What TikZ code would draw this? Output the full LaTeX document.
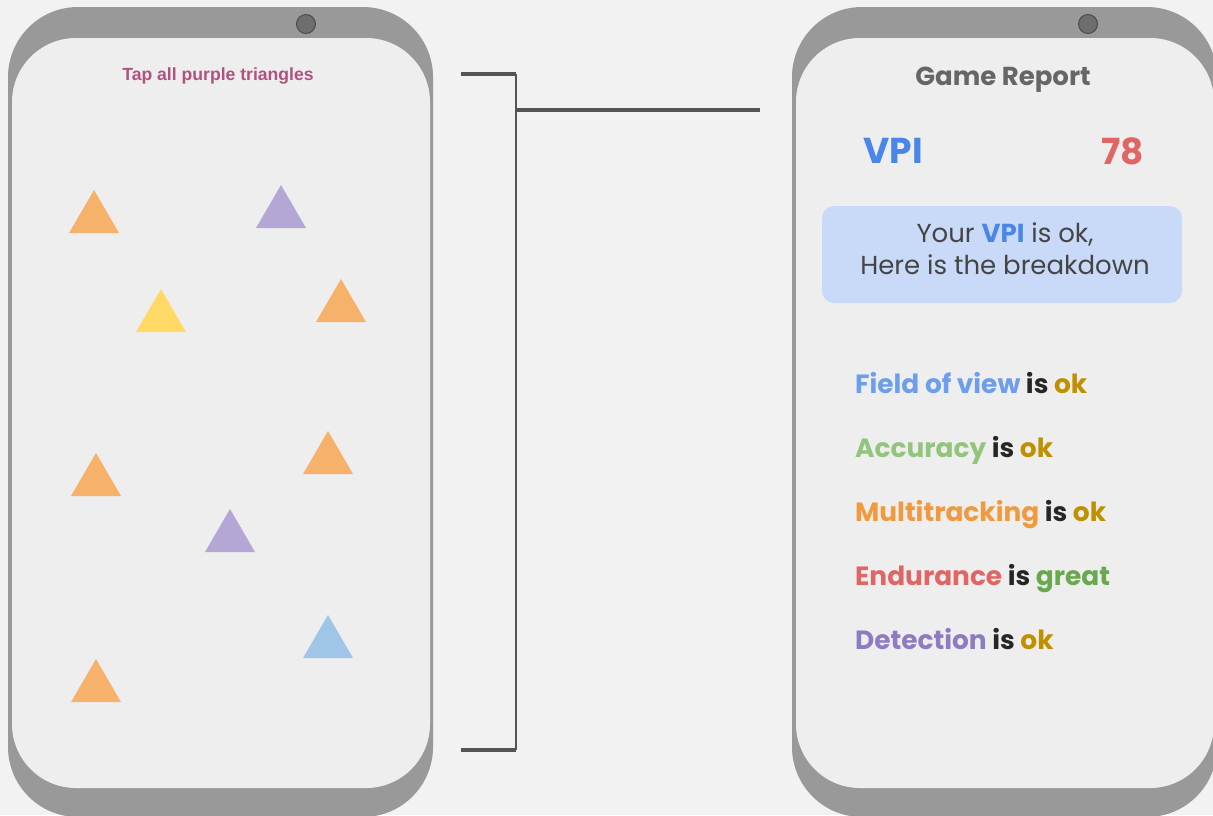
\documentclass[tikz,border=0pt]{standalone}
\usepackage{fontspec}
\setmainfont{Poppins}
\newfontfamily\tapfont{Liberation Sans}
\definecolor{bg}{HTML}{F2F2F2}
\definecolor{body}{HTML}{999999}
\definecolor{screen}{HTML}{EEEEEE}
\definecolor{cam}{HTML}{6E6E6E}
\definecolor{bracketgray}{HTML}{555555}
\definecolor{tapcol}{HTML}{B0527F}
\definecolor{titlegray}{HTML}{666666}
\definecolor{vpiblue}{HTML}{4A86E8}
\definecolor{scorered}{HTML}{E06666}
\definecolor{boxblue}{HTML}{C9DAF8}
\definecolor{txtgray}{HTML}{444444}
\definecolor{fovblue}{HTML}{6D9EEB}
\definecolor{accgreen}{HTML}{93C47D}
\definecolor{multorange}{HTML}{F0993E}
\definecolor{endred}{HTML}{E06666}
\definecolor{detpurple}{HTML}{8E7CC3}
\definecolor{okgold}{HTML}{BF9000}
\definecolor{greatgreen}{HTML}{6AA84F}
\definecolor{triorange}{HTML}{F6B26B}
\definecolor{tripurple}{HTML}{B4A7D6}
\definecolor{triyellow}{HTML}{FFD966}
\definecolor{triblue}{HTML}{9FC5E8}
\tikzset{
  phonebody/.style={fill=body, rounded corners=70pt},
  phonescreen/.style={fill=screen, rounded corners=64pt},
  camera/.style={fill=cam, draw=black!70, line width=1pt},
  bracketline/.style={draw=bracketgray, line width=3.2pt},
  itemtext/.style={anchor=base west, inner sep=0pt, font=\fontsize{26.4}{30}\selectfont\bfseries}
}
\begin{document}
\begin{tikzpicture}[x=1pt, y=-1pt]
    \useasboundingbox (0,0) rectangle (1213,815);
    \fill[bg] (0,0) rectangle (1213,815);
    \clip (0,0) rectangle (1213,815);

    % Telefono izquierdo
    \fill[phonebody] (8,7) rectangle (433,817);
    \fill[phonescreen] (12,38) rectangle (430,788);
    \fill[camera] (306,24) circle (9.5);
    \node[text=tapcol, font=\tapfont\fontsize{17.6}{20}\selectfont\bfseries] (tap) at (218,76) {Tap all purple triangles};

    % Triangulos: centro x, base y, color
    \foreach \x/\y/\c in {94/233/triorange, 281/228/tripurple, 161/332/triyellow,
                          341/322/triorange, 96/496/triorange, 328/474/triorange,
                          230/552/tripurple, 328/658/triblue, 96/702/triorange} {
        \fill[\c] (\x-25,\y) -- (\x+25,\y) -- (\x,\y-43) -- cycle;
    }

    % Corchete
    \coordinate (btop) at (461,74);
    \coordinate (bcorner) at (516,74);
    \coordinate (bbot) at (461,750);
    \coordinate (bcornerb) at (516,750);
    \coordinate (bmid) at (516,110);
    \coordinate (bend) at (760,110);
    \draw[bracketline] (btop) -- (bcorner);
    \draw[bracketline] (bbot) -- (bcornerb);
    \draw[draw=bracketgray, line width=2.2pt] (bcorner) -- (bcornerb);
    \draw[bracketline] (bmid) -- (bend);

    % Telefono derecho
    \fill[phonebody] (792,7) rectangle (1217,817);
    \fill[phonescreen] (796,38) rectangle (1214,788);
    \fill[camera] (1088,24) circle (9.5);

    \node[text=titlegray, font=\fontsize{26}{30}\selectfont\bfseries] (title) at (1003,80) {Game Report};
    \node[text=vpiblue, font=\fontsize{36}{40}\selectfont\bfseries] (vpi) at (893,151) {VPI};
    \node[text=scorered, font=\fontsize{36}{40}\selectfont\bfseries] (score) at (1123,151) {78};
    \node[fill=boxblue, rounded corners=12pt, minimum width=360pt, minimum height=97pt] (summary) at (1002,254.5) {};
    \node[align=center, text=txtgray, font=\fontsize{26}{32}\selectfont] (summarytext) at (1005,249)
          {Your \textcolor{vpiblue}{\bfseries VPI} is ok,\\Here is the breakdown};

    % Desglose
    \foreach \y/\lab/\lc/\res/\rc [count=\i] in {384/Field of view/fovblue/ok/okgold,
                                      448/Accuracy/accgreen/ok/okgold,
                                      512/Multitracking/multorange/ok/okgold,
                                      576/Endurance/endred/great/greatgreen,
                                      640/Detection/detpurple/ok/okgold} {
        \node[itemtext] (item\i) at (855,\y+9) {\textcolor{\lc}{\lab} \textcolor{black!85}{is} \textcolor{\rc}{\res}};
    }
\end{tikzpicture}
\end{document}
